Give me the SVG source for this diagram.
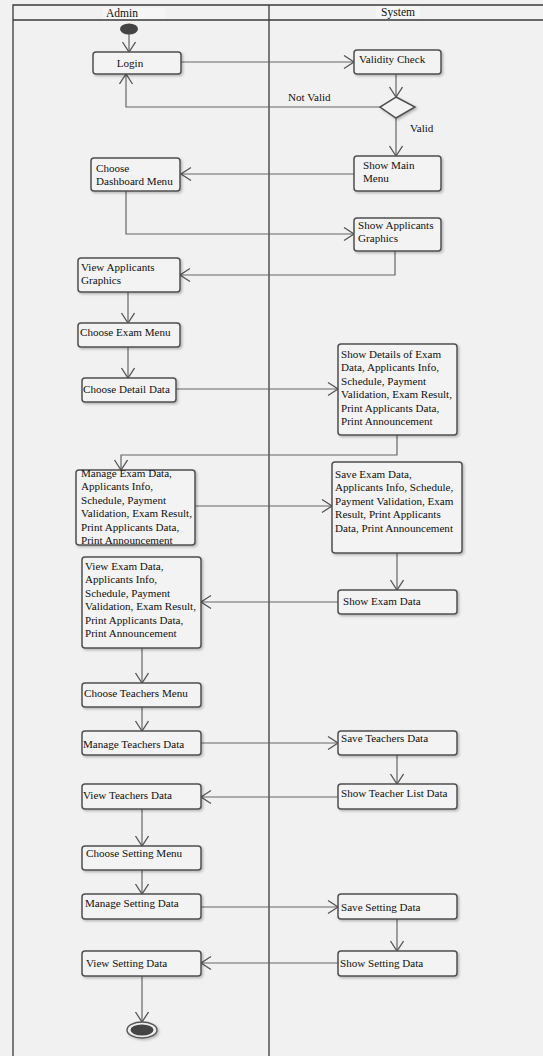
<svg xmlns="http://www.w3.org/2000/svg" width="543" height="1056" viewBox="0 0 543 1056">
<style>
.frame{fill:none;stroke:#3a3a3a;stroke-width:1.3}
.box{fill:#f3f3f3;stroke:#505050;stroke-width:1.5;filter:url(#sh)}
.t{font-family:"Liberation Serif","Times New Roman",serif;font-size:11.1px;fill:#111}
.hd{font-family:"Liberation Serif","Times New Roman",serif;font-size:11.5px;fill:#111;text-anchor:middle}
.c{fill:none;stroke:#666;stroke-width:1.2;marker-end:url(#ah)}
</style>
<defs>
<filter id="sh" x="-10%" y="-10%" width="130%" height="140%">
<feDropShadow dx="1.5" dy="1.5" stdDeviation="1.2" flood-color="#000" flood-opacity="0.25"/>
</filter>
<marker id="ah" markerUnits="userSpaceOnUse" markerWidth="14" markerHeight="16" refX="11" refY="7" orient="auto">
<path d="M1,0.5 L11,7 L1,13.5" fill="none" stroke="#555" stroke-width="1.3"/>
</marker>
</defs>
<rect x="0" y="0" width="543" height="1056" fill="#f1f1f1"/>
<g id="frame">
<rect x="103" y="8" width="62" height="12" fill="#f6f6f6"/>
<rect x="376" y="6" width="44" height="12" fill="#f6f6f6"/>
<path class="frame" d="M13,1056 V5 H543 M13,20 H543 M269,5 V1056"/>
<text class="hd" x="122" y="17">Admin</text>
<text class="hd" x="398" y="16">System</text>
</g>
<g id="connectors">
<path class="c" d="M129,34 V52"/>
<path class="c" d="M181,62 H354"/>
<path class="c" d="M396,74 V97"/>
<path class="c" d="M380,107 H126 V74"/>
<path class="c" d="M396,118 V156"/>
<path class="c" d="M354,174 H181"/>
<path class="c" d="M126,191 V234 H354"/>
<path class="c" d="M395,251 V275 H180"/>
<path class="c" d="M128,292 V323"/>
<path class="c" d="M128,347 V378"/>
<path class="c" d="M176,389 H338"/>
<path class="c" d="M397,435 V455 H121 V470"/>
<path class="c" d="M195,506 H332"/>
<path class="c" d="M397,553 V590"/>
<path class="c" d="M338,602 H201"/>
<path class="c" d="M142,648 V683"/>
<path class="c" d="M142,707 V731"/>
<path class="c" d="M201,743 H338"/>
<path class="c" d="M397,755 V784"/>
<path class="c" d="M338,797 H201"/>
<path class="c" d="M142,809 V846"/>
<path class="c" d="M142,870 V894"/>
<path class="c" d="M201,907 H338"/>
<path class="c" d="M397,919 V951"/>
<path class="c" d="M338,963 H201"/>
<path class="c" d="M142,976 V1022"/>
<text class="t" x="288" y="101">Not Valid</text>
<text class="t" x="410" y="132">Valid</text>
</g>
<g id="start"><ellipse cx="129" cy="29" rx="9" ry="5.5" fill="#444"/></g>
<g id="login"><rect class="box" x="93" y="52" width="88" height="22" rx="3"/><text class="t" x="130" y="67" text-anchor="middle">Login</text></g>
<g id="validity"><rect class="box" x="354" y="50" width="87" height="24" rx="3"/><text class="t" x="359" y="63">Validity Check</text></g>
<g id="decision"><polygon class="box" points="396,97 415,107 396,118 380,107"/></g>
<g id="mainmenu"><rect class="box" x="354" y="156" width="87" height="35" rx="3"/><text class="t" x="363" y="169">Show Main<tspan x="363" dy="13.4">Menu</tspan></text></g>
<g id="dashboard"><rect class="box" x="91" y="158" width="89" height="33" rx="3"/><text class="t" x="96" y="172">Choose<tspan x="96" dy="13.4">Dashboard Menu</tspan></text></g>
<g id="showgraphics"><rect class="box" x="354" y="218" width="87" height="33" rx="3"/><text class="t" x="358" y="229">Show Applicants<tspan x="358" dy="13.4">Graphics</tspan></text></g>
<g id="viewgraphics"><rect class="box" x="78" y="258" width="102" height="34" rx="3"/><text class="t" x="81" y="271">View Applicants<tspan x="81" dy="13.4">Graphics</tspan></text></g>
<g id="exammenu"><rect class="box" x="78" y="323" width="102" height="24" rx="3"/><text class="t" x="80" y="336">Choose Exam Menu</text></g>
<g id="detaildata"><rect class="box" x="82" y="378" width="94" height="24" rx="3"/><text class="t" x="83" y="393">Choose Detail Data</text></g>
<g id="showdetails"><rect class="box" x="338" y="344" width="119" height="91" rx="3"/><text class="t" x="341" y="358">Show Details of Exam<tspan x="341" dy="13.4">Data, Applicants Info,</tspan><tspan x="341" dy="13.4">Schedule, Payment</tspan><tspan x="341" dy="13.4">Validation, Exam Result,</tspan><tspan x="341" dy="13.4">Print Applicants Data,</tspan><tspan x="341" dy="13.4">Print Announcement</tspan></text></g>
<g id="manageexam"><rect class="box" x="76" y="470" width="119" height="75" rx="3"/><text class="t" x="81" y="477">Manage Exam Data,<tspan x="81" dy="13.4">Applicants Info,</tspan><tspan x="81" dy="13.4">Schedule, Payment</tspan><tspan x="81" dy="13.4">Validation, Exam Result,</tspan><tspan x="81" dy="13.4">Print Applicants Data,</tspan><tspan x="81" dy="13.4">Print Announcement</tspan></text></g>
<g id="saveexam"><rect class="box" x="332" y="462" width="130" height="91" rx="3"/><text class="t" x="335" y="478">Save Exam Data,<tspan x="335" dy="13.4">Applicants Info, Schedule,</tspan><tspan x="335" dy="13.4">Payment Validation, Exam</tspan><tspan x="335" dy="13.4">Result, Print Applicants</tspan><tspan x="335" dy="13.4">Data, Print Announcement</tspan></text></g>
<g id="showexam"><rect class="box" x="338" y="590" width="119" height="24" rx="3"/><text class="t" x="343" y="605">Show Exam Data</text></g>
<g id="viewexam"><rect class="box" x="82" y="557" width="119" height="91" rx="3"/><text class="t" x="85" y="570">View Exam Data,<tspan x="85" dy="13.4">Applicants Info,</tspan><tspan x="85" dy="13.4">Schedule, Payment</tspan><tspan x="85" dy="13.4">Validation, Exam Result,</tspan><tspan x="85" dy="13.4">Print Applicants Data,</tspan><tspan x="85" dy="13.4">Print Announcement</tspan></text></g>
<g id="teachersmenu"><rect class="box" x="82" y="683" width="119" height="24" rx="3"/><text class="t" x="84" y="697">Choose Teachers Menu</text></g>
<g id="manageteachers"><rect class="box" x="82" y="731" width="119" height="24" rx="3"/><text class="t" x="83" y="748">Manage Teachers Data</text></g>
<g id="saveteachers"><rect class="box" x="338" y="731" width="119" height="24" rx="3"/><text class="t" x="341" y="742">Save Teachers Data</text></g>
<g id="showteacherlist"><rect class="box" x="338" y="784" width="119" height="25" rx="3"/><text class="t" x="341" y="797">Show Teacher List Data</text></g>
<g id="viewteachers"><rect class="box" x="82" y="784" width="119" height="25" rx="3"/><text class="t" x="83" y="799">View Teachers Data</text></g>
<g id="settingmenu"><rect class="box" x="82" y="846" width="119" height="24" rx="3"/><text class="t" x="86" y="857">Choose Setting Menu</text></g>
<g id="managesetting"><rect class="box" x="82" y="894" width="119" height="25" rx="3"/><text class="t" x="85" y="907">Manage Setting Data</text></g>
<g id="savesetting"><rect class="box" x="338" y="894" width="119" height="25" rx="3"/><text class="t" x="341" y="911">Save Setting Data</text></g>
<g id="showsetting"><rect class="box" x="338" y="951" width="119" height="25" rx="3"/><text class="t" x="340" y="967">Show Setting Data</text></g>
<g id="viewsetting"><rect class="box" x="82" y="951" width="119" height="25" rx="3"/><text class="t" x="86" y="967">View Setting Data</text></g>
<g id="end"><ellipse cx="142" cy="1030" rx="15" ry="8" fill="#eee" stroke="#555" stroke-width="1.4" filter="url(#sh)"/><ellipse cx="142" cy="1030" rx="11.5" ry="5.5" fill="#444"/></g>
</svg>
